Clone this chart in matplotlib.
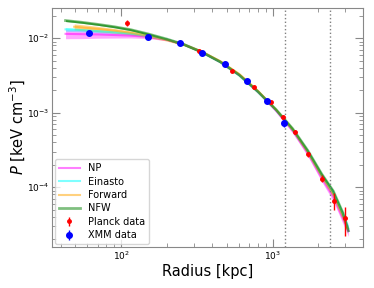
import matplotlib
matplotlib.use("Agg")
import matplotlib.pyplot as plt
import numpy as np

# model profiles (kpc, keV cm^-3)
r_mod = [43, 55, 70, 90, 115, 150, 200, 260, 340, 450, 600, 800, 1050, 1350, 1700, 2100, 2500, 2900, 3150]
r_fwd = [49, 55, 70, 90, 115, 150, 200, 260, 340, 450, 600, 800, 1050, 1350, 1700, 2100, 2500, 2900, 3100]

p_np = [0.0114, 0.0113, 0.0112, 0.0110, 0.0108, 0.0104, 0.0095, 0.0082, 0.0065, 0.0048, 0.0032, 0.0019,
        0.00106, 5.7e-4, 2.85e-4, 1.33e-4, 7.5e-5, 3.8e-5, 2.6e-5]
e_np = [0.14, 0.13, 0.11, 0.09, 0.07, 0.05, 0.03, 0.02, 0.02, 0.02, 0.02, 0.03, 0.04, 0.06, 0.09, 0.11, 0.13, 0.15, 0.16]

p_ein = [0.0131, 0.0128, 0.0124, 0.0120, 0.0115, 0.0107, 0.0096, 0.0082, 0.0065, 0.0048, 0.0032, 0.0019,
         0.00108, 5.9e-4, 3.0e-4, 1.42e-4, 8.3e-5, 4.2e-5, 2.8e-5]
e_ein = [0.06, 0.05, 0.05, 0.04, 0.04, 0.03, 0.02, 0.02, 0.02, 0.02, 0.02, 0.02, 0.03, 0.04, 0.05, 0.07, 0.09, 0.11, 0.13]

p_fwd = [0.0142, 0.0139, 0.0133, 0.0126, 0.0118, 0.0107, 0.0095, 0.0082, 0.0066, 0.0049, 0.0033, 0.00195,
         0.00109, 5.9e-4, 2.95e-4, 1.40e-4, 8.0e-5, 4.0e-5, 2.8e-5]
e_fwd = [0.09, 0.09, 0.08, 0.07, 0.06, 0.05, 0.04, 0.04, 0.04, 0.04, 0.04, 0.04, 0.04, 0.05, 0.05, 0.06, 0.07, 0.08, 0.10]

p_nfw = [0.0172, 0.0163, 0.0153, 0.0142, 0.0130, 0.0114, 0.0097, 0.0082, 0.0065, 0.0048, 0.0032, 0.0019,
         0.00110, 6.1e-4, 3.1e-4, 1.5e-4, 8.9e-5, 4.5e-5, 2.6e-5]
e_nfw = [0.03] * len(r_mod)

# Planck points
r_pl = [110, 325, 541, 757, 966, 1175, 1390, 1705, 2120, 2545, 2980]
p_pl = [0.0159, 0.00668, 0.00364, 0.0022, 0.00137, 8.7e-4, 5.47e-4, 2.77e-4, 1.30e-4, 6.6e-5, 3.84e-5]
err_pl = [0.0015, 0.0003, 0.00015, 0.0001, 0.00006, 4e-5, 3e-5, 2e-5, 1.4e-5, 1.7e-5, 1.65e-5]

# XMM points
r_xmm = [61.7, 150, 243, 339, 483, 671, 912, 1189]
p_xmm = [0.01166, 0.0105, 0.00847, 0.00641, 0.00452, 0.00265, 0.00143, 7.3e-4]
err_xmm = [0.0004, 0.0003, 0.0002, 0.00015, 0.0001, 7e-5, 5e-5, 9e-5]

r500 = 1210
r200 = 2400

fig = plt.figure(figsize=(3.74, 2.88), dpi=100)
ax = fig.add_axes([0.139, 0.142, 0.832, 0.830])

models = [
    ("NP", r_mod, p_np, e_np, "magenta", 0.35),
    ("Einasto", r_mod, p_ein, e_ein, "cyan", 0.35),
    ("Forward", r_fwd, p_fwd, e_fwd, "orange", 0.45),
    ("NFW", r_mod, p_nfw, e_nfw, "green", 0.6),
]
for name, rr, pp, ee, col, a in models:
    rr = np.array(rr)
    pp = np.array(pp)
    ee = np.array(ee)
    ax.fill_between(rr, pp * (1 - ee), pp * (1 + ee), color=col, alpha=a, lw=0)
    ax.plot(rr, pp, color=col, alpha=0.5, lw=2 if name == "NFW" else 1.5, label=name)

ax.errorbar(r_pl, p_pl, yerr=err_pl, fmt="o", color="red", ms=2.5, elinewidth=1, label="Planck data")
ax.errorbar(r_xmm, p_xmm, yerr=err_xmm, fmt="o", color="blue", ms=4, elinewidth=1, label="XMM data")

ax.axvline(r500, color="gray", ls=":", lw=1)
ax.axvline(r200, color="gray", ls=":", lw=1)

ax.set_xscale("log")
ax.set_yscale("log")
ax.set_xlim(35, 3940)
ax.set_ylim(1.57e-5, 0.0253)

ax.set_xlabel("Radius [kpc]", fontsize=10.5, labelpad=1)
ax.set_ylabel(r"$P$ [keV cm$^{-3}$]", fontsize=10.5, labelpad=-1)

for s in ax.spines.values():
    s.set_color("#888888")
ax.tick_params(which="both", direction="in", top=True, right=True, color="#888888", labelsize=6.5, pad=2)
ax.tick_params(which="major", length=6)
ax.tick_params(which="minor", length=3)

ax.legend(loc="lower left", fontsize=7, handlelength=2.2, borderaxespad=0.3, labelspacing=0.35)

fig.savefig("out.png", dpi=100)
